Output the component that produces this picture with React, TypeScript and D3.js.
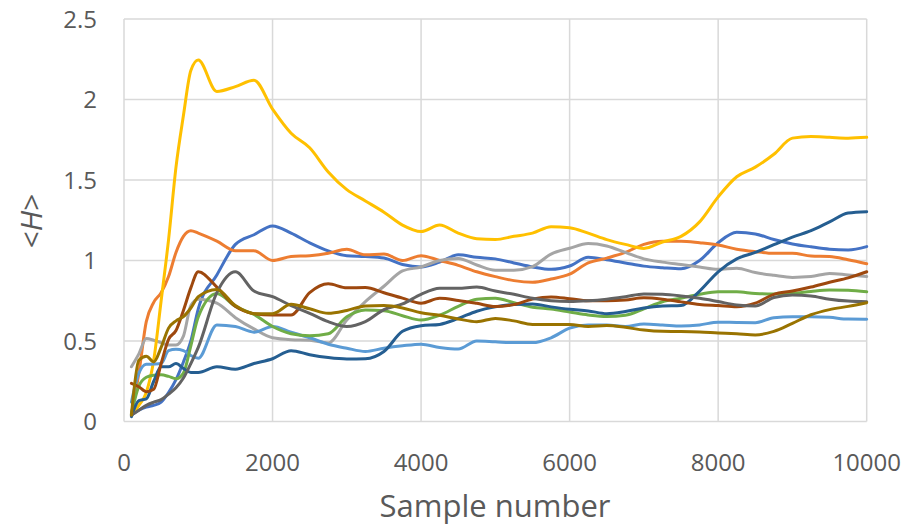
import React from "react";
import * as d3 from "d3";

const samples = [100, 200, 300, 400, 500, 600, 700, 800, 900, 1000, 1250, 1500, 1750, 2000, 2250, 2500, 2750, 3000, 3250, 3500, 3750, 4000, 4250, 4500, 4750, 5000, 5250, 5500, 5750, 6000, 6250, 6500, 6750, 7000, 7250, 7500, 7750, 8000, 8250, 8500, 8750, 9000, 9250, 9500, 9750, 10000];

const seriesBlue = [0.04, 0.07, 0.09, 0.1, 0.12, 0.18, 0.26, 0.37, 0.5, 0.7, 0.91, 1.1, 1.16, 1.215, 1.17, 1.11, 1.06, 1.03, 1.025, 1.015, 0.975, 0.96, 0.99, 1.035, 1.02, 1.01, 0.985, 0.96, 0.945, 0.966, 1.02, 1.005, 0.985, 0.965, 0.955, 0.948, 1.0, 1.11, 1.175, 1.165, 1.13, 1.103, 1.085, 1.07, 1.065, 1.086];
const seriesOrange = [0.05, 0.3, 0.62, 0.74, 0.8, 0.9, 1.05, 1.15, 1.185, 1.17, 1.12, 1.06, 1.06, 1.0, 1.025, 1.03, 1.045, 1.07, 1.035, 1.04, 1.0, 1.03, 1.0, 0.97, 0.93, 0.9, 0.875, 0.865, 0.885, 0.915, 0.985, 1.015, 1.05, 1.1, 1.12, 1.12, 1.11, 1.096, 1.07, 1.055, 1.045, 1.045, 1.028, 1.025, 1.005, 0.98];
const seriesGray = [0.34, 0.42, 0.515, 0.505, 0.49, 0.475, 0.475, 0.53, 0.72, 0.76, 0.735, 0.645, 0.575, 0.52, 0.508, 0.505, 0.488, 0.63, 0.745, 0.84, 0.935, 0.96, 1.0, 1.012, 0.972, 0.94, 0.94, 0.962, 1.04, 1.076, 1.105, 1.09, 1.05, 1.01, 0.99, 0.975, 0.96, 0.945, 0.952, 0.925, 0.908, 0.895, 0.9, 0.92, 0.91, 0.9];
const seriesGold = [0.04, 0.1, 0.18, 0.38, 0.75, 1.13, 1.58, 1.9, 2.18, 2.245, 2.05, 2.08, 2.12, 1.94, 1.79, 1.7, 1.55, 1.44, 1.37, 1.3, 1.22, 1.18, 1.22, 1.17, 1.135, 1.13, 1.15, 1.17, 1.21, 1.204, 1.17, 1.13, 1.1, 1.075, 1.115, 1.15, 1.24, 1.395, 1.52, 1.58, 1.66, 1.76, 1.77, 1.765, 1.76, 1.765];
const seriesLightBlue = [0.12, 0.3, 0.355, 0.357, 0.36, 0.44, 0.448, 0.44, 0.41, 0.393, 0.6, 0.59, 0.555, 0.59, 0.555, 0.52, 0.48, 0.455, 0.435, 0.455, 0.47, 0.48, 0.46, 0.45, 0.5, 0.495, 0.49, 0.49, 0.52, 0.58, 0.6, 0.6, 0.59, 0.605, 0.6, 0.593, 0.6, 0.617, 0.615, 0.614, 0.645, 0.651, 0.651, 0.647, 0.636, 0.635];
const seriesGreen = [0.05, 0.22, 0.275, 0.288, 0.29, 0.28, 0.265, 0.3, 0.47, 0.65, 0.795, 0.715, 0.665, 0.59, 0.545, 0.533, 0.545, 0.65, 0.692, 0.688, 0.657, 0.63, 0.66, 0.715, 0.76, 0.765, 0.738, 0.71, 0.698, 0.68, 0.662, 0.652, 0.66, 0.7, 0.744, 0.766, 0.79, 0.806, 0.806, 0.795, 0.792, 0.795, 0.808, 0.817, 0.815, 0.806];
const seriesDarkBlue = [0.03, 0.13, 0.14, 0.25, 0.34, 0.34, 0.36, 0.33, 0.305, 0.305, 0.34, 0.325, 0.36, 0.39, 0.44, 0.415, 0.397, 0.388, 0.39, 0.435, 0.56, 0.595, 0.603, 0.64, 0.685, 0.712, 0.727, 0.73, 0.712, 0.697, 0.687, 0.67, 0.683, 0.705, 0.717, 0.72, 0.81, 0.93, 1.01, 1.05, 1.098, 1.145, 1.185, 1.24, 1.295, 1.303];
const seriesBrown = [0.237, 0.216, 0.185, 0.2, 0.36, 0.51, 0.565, 0.69, 0.83, 0.93, 0.835, 0.715, 0.67, 0.661, 0.661, 0.8, 0.855, 0.83, 0.833, 0.8, 0.766, 0.735, 0.765, 0.752, 0.734, 0.714, 0.726, 0.76, 0.774, 0.763, 0.75, 0.75, 0.755, 0.768, 0.76, 0.743, 0.727, 0.72, 0.713, 0.735, 0.79, 0.81, 0.835, 0.865, 0.892, 0.93];
const seriesDarkGray = [0.04, 0.07, 0.1, 0.12, 0.136, 0.17, 0.21, 0.27, 0.36, 0.46, 0.8, 0.93, 0.81, 0.775, 0.72, 0.672, 0.62, 0.59, 0.62, 0.695, 0.73, 0.79, 0.827, 0.828, 0.835, 0.81, 0.79, 0.765, 0.75, 0.745, 0.75, 0.76, 0.775, 0.792, 0.79, 0.78, 0.765, 0.745, 0.724, 0.718, 0.77, 0.786, 0.78, 0.76, 0.748, 0.744];
const seriesOlive = [0.04, 0.38, 0.405, 0.37, 0.46, 0.58, 0.625, 0.651, 0.705, 0.775, 0.82, 0.72, 0.67, 0.67, 0.728, 0.7, 0.672, 0.69, 0.718, 0.72, 0.705, 0.675, 0.66, 0.637, 0.62, 0.64, 0.625, 0.603, 0.602, 0.603, 0.59, 0.596, 0.585, 0.568, 0.56, 0.559, 0.556, 0.55, 0.545, 0.538, 0.56, 0.61, 0.663, 0.695, 0.715, 0.738];

const allSeries = [seriesBlue, seriesOrange, seriesGray, seriesGold, seriesLightBlue, seriesGreen, seriesDarkBlue, seriesBrown, seriesDarkGray, seriesOlive];
const colors = ["#4472C4", "#ED7D31", "#A5A5A5", "#FFC000", "#5B9BD5", "#70AD47", "#255E91", "#9E480E", "#636363", "#997300"];

const xTicks = [0, 2000, 4000, 6000, 8000, 10000];
const yTicks = [0, 0.5, 1, 1.5, 2, 2.5];

export default function App() {
  const W = 910, H = 528;
  const x = d3.scaleLinear().domain([0, 10000]).range([124, 866.7]);
  const y = d3.scaleLinear().domain([0, 2.5]).range([421.5, 19]);
  const line = d3.line<number>()
    .x((_, i) => x(samples[i]))
    .y((d) => y(d))
    .curve(d3.curveMonotoneX);
  const font = "'Open Sans', 'Noto Sans', sans-serif";
  const textColor = "#595959";
  return (
    <svg width={W} height={H} style={{ position: "absolute", left: 0, top: 0, background: "#fff" }}>
      <rect width={W} height={H} fill="#fff" />
      {yTicks.map((t) => (
        <line key={"gy" + t} x1={x(0)} x2={x(10000)} y1={y(t)} y2={y(t)} stroke="#D9D9D9" strokeWidth={1.5} />
      ))}
      {xTicks.map((t) => (
        <line key={"gx" + t} x1={x(t)} x2={x(t)} y1={y(0)} y2={y(2.5)} stroke="#D9D9D9" strokeWidth={1.5} />
      ))}
      {allSeries.map((s, i) => (
        <path key={"s" + i} d={line(s) || ""} fill="none" stroke={colors[i]} strokeWidth={3}
          strokeLinejoin="round" strokeLinecap="round" />
      ))}
      {yTicks.map((t) => (
        <text key={"ty" + t} x={97} y={y(t)} dy="0.36em" textAnchor="end" fontFamily={font} fontSize={24} fill={textColor}>
          {String(t)}
        </text>
      ))}
      {xTicks.map((t) => (
        <text key={"tx" + t} x={x(t)} y={471} textAnchor="middle" fontFamily={font} fontSize={24} fill={textColor}>
          {String(t)}
        </text>
      ))}
      <text x={495} y={517} textAnchor="middle" fontFamily={font} fontSize={31} fill={textColor}>Sample number</text>
      <text transform={`translate(42,221) rotate(-90)`} textAnchor="middle" fontFamily={font} fontSize={30} fill={textColor}>
        {"<"}<tspan fontStyle="italic">H</tspan>{">"}
      </text>
    </svg>
  );
}
